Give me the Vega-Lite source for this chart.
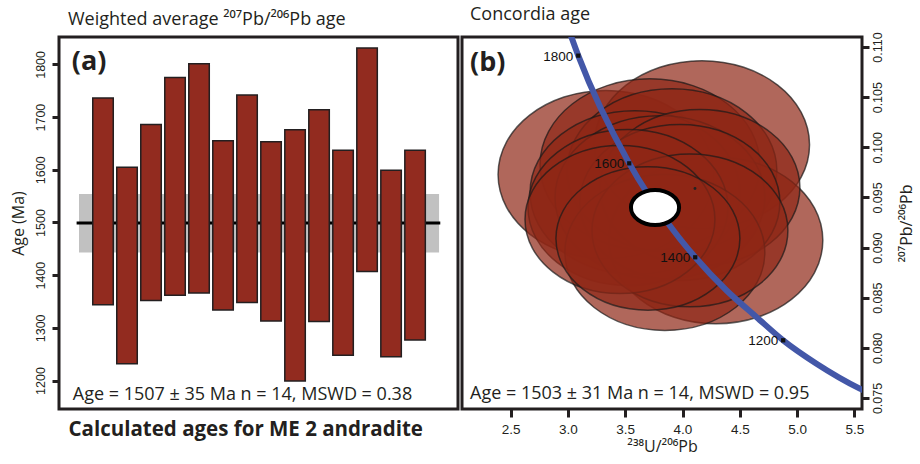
{
  "$schema": "https://vega.github.io/schema/vega-lite/v6.json",
  "background": "white",
  "padding": {"left": 8, "top": 4, "right": 0, "bottom": 0},
  "spacing": 0,
  "config": {
    "view": {"stroke": "#231f20", "strokeWidth": 3},
    "axis": {"domain": false, "grid": false, "tickColor": "#231f20", "tickWidth": 3, "tickSize": 7, "labelColor": "#231f20", "labelFont": "Liberation Sans", "labelFontSize": 12.5, "titleFont": "Open Sans", "titleFontWeight": "normal", "titleFontSize": 16, "titleColor": "#231f20"},
    "title": {"font": "Open Sans", "fontSize": 18, "fontWeight": "normal", "anchor": "start", "frame": "group", "color": "#231f20"}
  },
  "datasets": {
    "bars": [
      {"i": 1, "lo": 1344, "hi": 1736},
      {"i": 2, "lo": 1232, "hi": 1605},
      {"i": 3, "lo": 1352, "hi": 1686},
      {"i": 4, "lo": 1362, "hi": 1775},
      {"i": 5, "lo": 1366, "hi": 1801},
      {"i": 6, "lo": 1334, "hi": 1655},
      {"i": 7, "lo": 1348, "hi": 1742},
      {"i": 8, "lo": 1313, "hi": 1653},
      {"i": 9, "lo": 1199, "hi": 1676},
      {"i": 10, "lo": 1312, "hi": 1714},
      {"i": 11, "lo": 1248, "hi": 1637},
      {"i": 12, "lo": 1407, "hi": 1831},
      {"i": 13, "lo": 1245, "hi": 1599},
      {"i": 14, "lo": 1277, "hi": 1637}
    ],
    "band": [{"x0": 0, "x1": 15, "lo": 1443, "hi": 1554}],
    "mean": [{"x0": -0.1, "x1": 15.05, "age": 1499}],
    "tag_a": [{"x": -0.3, "y": 1789, "t": "(a)"}],
    "stat_a": [{"x": -0.26, "y": 1163, "t": "Age = 1507 ± 35 Ma n = 14, MSWD = 0.38"}],
    "ellipses": [
      {"x": 3.332, "y": 0.09728, "a": 0.942},
      {"x": 4.169, "y": 0.10026, "a": 0.94},
      {"x": 3.716, "y": 0.09827, "a": 0.96},
      {"x": 3.908, "y": 0.09767, "a": 0.916},
      {"x": 3.585, "y": 0.09549, "a": 0.916},
      {"x": 4.291, "y": 0.09072, "a": 0.934},
      {"x": 3.803, "y": 0.09499, "a": 0.916},
      {"x": 4.152, "y": 0.09598, "a": 0.873},
      {"x": 3.977, "y": 0.09449, "a": 0.873},
      {"x": 3.524, "y": 0.094, "a": 0.873},
      {"x": 3.846, "y": 0.08952, "a": 0.873},
      {"x": 4.065, "y": 0.09171, "a": 0.855},
      {"x": 3.454, "y": 0.0928, "a": 0.829},
      {"x": 3.698, "y": 0.09091, "a": 0.803}
    ],
    "concordia": [
      {"x": 3.005, "y": 0.1118},
      {"x": 3.09, "y": 0.10914},
      {"x": 3.535, "y": 0.0984},
      {"x": 3.89, "y": 0.09218},
      {"x": 4.111, "y": 0.08903},
      {"x": 4.385, "y": 0.08572},
      {"x": 4.647, "y": 0.08306},
      {"x": 4.879, "y": 0.08075},
      {"x": 5.17, "y": 0.07842},
      {"x": 5.548, "y": 0.07593},
      {"x": 5.722, "y": 0.075}
    ],
    "ticks_c": [
      {"x": 3.09, "y": 0.10914, "t": "1800"},
      {"x": 3.535, "y": 0.0984, "t": "1600"},
      {"x": 4.111, "y": 0.08903, "t": "1400"},
      {"x": 4.879, "y": 0.08075, "t": "1200"}
    ],
    "cage": [{"x": 3.76, "y": 0.094, "a": 0.21}],
    "dot": [{"x": 4.109, "y": 0.09589}],
    "tag_b": [{"x": 2.145, "y": 0.10761, "t": "(b)"}],
    "stat_b": [{"x": 2.145, "y": 0.07491, "t": "Age = 1503 ± 31 Ma n = 14, MSWD = 0.95"}]
  },
  "hconcat": [
    {
      "width": 399,
      "height": 372,
      "title": {"text": "Weighted average ²⁰⁷Pb/²⁰⁶Pb age", "dx": 9, "offset": 8},
      "layer": [
        {
          "data": {"name": "band"},
          "mark": {"type": "rect", "fill": "#c1c1c1"},
          "encoding": {
            "x": {"field": "x0", "type": "quantitative", "scale": {"domain": [-0.625, 15.58], "nice": false, "zero": false},
              "axis": {"title": "Calculated ages for ME 2 andradite", "labels": false, "ticks": false, "domain": false, "titleFontSize": 20.5, "titleFontWeight": "bold", "titleAlign": "left", "titleAnchor": "start", "titleX": 9, "titlePadding": 10}},
            "x2": {"field": "x1"},
            "y": {"field": "lo", "type": "quantitative", "scale": {"domain": [1146, 1852], "nice": false, "zero": false},
              "axis": {"title": "Age (Ma)", "values": [1200, 1300, 1400, 1500, 1600, 1700, 1800], "format": "d", "labelAngle": 270, "labelAlign": "center", "labelBaseline": "bottom", "labelPadding": 5, "titlePadding": 8}},
            "y2": {"field": "hi"}
          }
        },
        {
          "data": {"name": "mean"},
          "mark": {"type": "rule", "stroke": "#000000", "strokeWidth": 3},
          "encoding": {
            "x": {"field": "x0", "type": "quantitative"},
            "x2": {"field": "x1"},
            "y": {"field": "age", "type": "quantitative"}
          }
        },
        {
          "data": {"name": "bars"},
          "mark": {"type": "bar", "width": 20.5, "fill": "#922b1f", "stroke": "#231f20", "strokeWidth": 1.5},
          "encoding": {
            "x": {"field": "i", "type": "quantitative"},
            "y": {"field": "lo", "type": "quantitative"},
            "y2": {"field": "hi"}
          }
        },
        {
          "data": {"name": "tag_a"},
          "mark": {"type": "text", "font": "Open Sans", "fontWeight": "bold", "fontSize": 27, "align": "left", "baseline": "alphabetic", "color": "#231f20"},
          "encoding": {
            "x": {"field": "x", "type": "quantitative"},
            "y": {"field": "y", "type": "quantitative"},
            "text": {"field": "t"}
          }
        },
        {
          "data": {"name": "stat_a"},
          "mark": {"type": "text", "font": "Open Sans", "fontSize": 18, "align": "left", "baseline": "alphabetic", "color": "#231f20"},
          "encoding": {
            "x": {"field": "x", "type": "quantitative"},
            "y": {"field": "y", "type": "quantitative"},
            "text": {"field": "t"}
          }
        }
      ]
    },
    {
      "width": 400,
      "height": 372,
      "title": {"text": "Concordia age", "dx": 8, "offset": 8},
      "layer": [
        {
          "data": {"name": "ellipses"},
          "mark": {"type": "point", "shape": "M-1,0C-1,-0.43,-0.552,-0.78,0,-0.78C0.552,-0.78,1,-0.43,1,0C1,0.43,0.552,0.78,0,0.78C-0.552,0.78,-1,0.43,-1,0Z", "filled": true, "fill": "#8e2616", "fillOpacity": 0.7, "stroke": "#1a1a1a", "strokeOpacity": 0.7, "strokeWidth": 1.5, "opacity": 1},
          "encoding": {
            "x": {"field": "x", "type": "quantitative", "scale": {"domain": [2.075, 5.567], "nice": false, "zero": false},
              "axis": {"title": "²³⁸U/²⁰⁶Pb", "values": [2.5, 3, 3.5, 4, 4.5, 5, 5.5], "format": ".1f", "labelPadding": 5, "labelFontSize": 13.5, "titlePadding": 3, "tickSize": 8}},
            "y": {"field": "y", "type": "quantitative", "scale": {"domain": [0.0739, 0.111], "nice": false, "zero": false},
              "axis": {"orient": "right", "title": "²⁰⁷Pb/²⁰⁶Pb", "values": [0.075, 0.08, 0.085, 0.09, 0.095, 0.1, 0.105, 0.11], "format": ".3f", "labelAngle": 270, "labelAlign": "center", "labelBaseline": "top", "labelPadding": 2, "titleAngle": 270, "titleBaseline": "top", "titlePadding": 15}},
            "size": {"field": "a", "type": "quantitative", "scale": {"type": "pow", "exponent": 2, "domain": [0, 1], "range": [0, 52486]}, "legend": null}
          }
        },
        {
          "data": {"name": "concordia"},
          "mark": {"type": "line", "clip": true, "stroke": "#4357a8", "strokeWidth": 6, "interpolate": "monotone"},
          "encoding": {
            "x": {"field": "x", "type": "quantitative"},
            "y": {"field": "y", "type": "quantitative"}
          }
        },
        {
          "data": {"name": "dot"},
          "mark": {"type": "point", "shape": "circle", "filled": true, "fill": "#222222", "size": 8, "opacity": 1},
          "encoding": {
            "x": {"field": "x", "type": "quantitative"},
            "y": {"field": "y", "type": "quantitative"}
          }
        },
        {
          "data": {"name": "cage"},
          "mark": {"type": "point", "shape": "M-1,0C-1,-0.4,-0.552,-0.73,0,-0.73C0.552,-0.73,1,-0.4,1,0C1,0.4,0.552,0.73,0,0.73C-0.552,0.73,-1,0.4,-1,0Z", "filled": true, "fill": "#ffffff", "stroke": "#000000", "strokeWidth": 4, "opacity": 1},
          "encoding": {
            "x": {"field": "x", "type": "quantitative"},
            "y": {"field": "y", "type": "quantitative"},
            "size": {"field": "a", "type": "quantitative", "legend": null}
          }
        },
        {
          "data": {"name": "ticks_c"},
          "mark": {"type": "point", "shape": "square", "filled": true, "fill": "#111111", "size": 18, "opacity": 1},
          "encoding": {
            "x": {"field": "x", "type": "quantitative"},
            "y": {"field": "y", "type": "quantitative"}
          }
        },
        {
          "data": {"name": "ticks_c"},
          "mark": {"type": "text", "font": "Liberation Sans", "fontSize": 13.5, "align": "right", "baseline": "middle", "dx": -5, "dy": 1, "color": "#111111"},
          "encoding": {
            "x": {"field": "x", "type": "quantitative"},
            "y": {"field": "y", "type": "quantitative"},
            "text": {"field": "t"}
          }
        },
        {
          "data": {"name": "tag_b"},
          "mark": {"type": "text", "font": "Open Sans", "fontWeight": "bold", "fontSize": 27, "align": "left", "baseline": "alphabetic", "color": "#231f20"},
          "encoding": {
            "x": {"field": "x", "type": "quantitative"},
            "y": {"field": "y", "type": "quantitative"},
            "text": {"field": "t"}
          }
        },
        {
          "data": {"name": "stat_b"},
          "mark": {"type": "text", "font": "Open Sans", "fontSize": 18, "align": "left", "baseline": "alphabetic", "color": "#231f20"},
          "encoding": {
            "x": {"field": "x", "type": "quantitative"},
            "y": {"field": "y", "type": "quantitative"},
            "text": {"field": "t"}
          }
        }
      ]
    }
  ]
}
